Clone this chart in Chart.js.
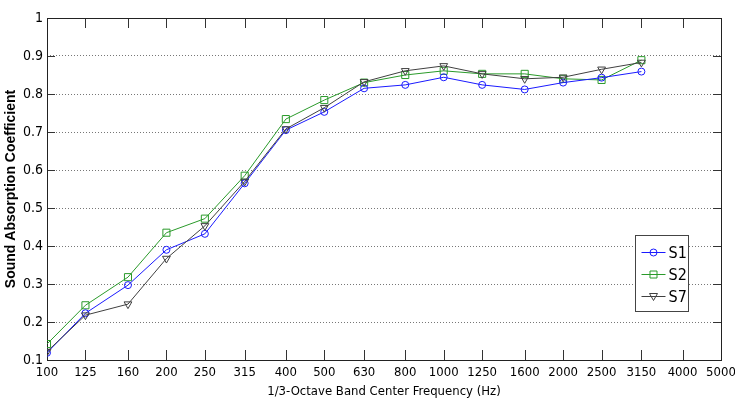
<!DOCTYPE html>
<html>
<head>
<meta charset="utf-8">
<script src="https://cdn.jsdelivr.net/npm/chart.js@4/dist/chart.umd.min.js"></script>
<style>
  body { margin: 0; background: #fff; }
  canvas { display: block; }
</style>
</head>
<body>
<canvas id="chart" width="735" height="405"></canvas>
<script>
const freqTicks = [100, 125, 160, 200, 250, 315, 400, 500, 630, 800, 1000, 1250, 1600, 2000, 2500, 3150, 4000, 5000];
const freqs = [100, 125, 160, 200, 250, 315, 400, 500, 630, 800, 1000, 1250, 1600, 2000, 2500, 3150];
const s1 = [0.119, 0.223, 0.297, 0.390, 0.432, 0.565, 0.705, 0.753, 0.815, 0.824, 0.844, 0.824, 0.812, 0.830, 0.843, 0.859];
const s2 = [0.142, 0.244, 0.318, 0.435, 0.472, 0.585, 0.734, 0.784, 0.830, 0.850, 0.861, 0.853, 0.853, 0.840, 0.837, 0.889];
const s7 = [0.122, 0.218, 0.247, 0.367, 0.453, 0.570, 0.708, 0.764, 0.832, 0.861, 0.874, 0.853, 0.840, 0.844, 0.865, 0.883];
const yTicks = [0.1, 0.2, 0.3, 0.4, 0.5, 0.6, 0.7, 0.8, 0.9, 1];

const narrow = "'Liberation Sans Narrow', 'DejaVu Sans Condensed', 'Liberation Sans', sans-serif";

function pts(vals) {
  return vals.map((v, i) => ({ x: freqs[i], y: v }));
}

function drawMarker(ctx, style, x, y, color) {
  ctx.save();
  ctx.strokeStyle = color;
  ctx.lineWidth = 1;
  ctx.beginPath();
  if (style === "circle") {
    ctx.arc(x, y, 3.5, 0, Math.PI * 2);
  } else if (style === "rect") {
    ctx.rect(x - 3.5, y - 3.5, 7, 7);
  } else {
    ctx.moveTo(x - 4, y - 3);
    ctx.lineTo(x + 4, y - 3);
    ctx.lineTo(x, y + 4);
    ctx.closePath();
  }
  ctx.stroke();
  ctx.restore();
}

// matlab-like box with inward ticks
const framePlugin = {
  id: "frame",
  beforeDatasetsDraw(chart) {
    const { ctx, chartArea: a, scales } = chart;
    ctx.save();
    ctx.strokeStyle = "#333";
    ctx.lineWidth = 1;
    freqTicks.forEach(f => {
      const x = Math.round(scales.x.getPixelForValue(f)) + 0.5;
      ctx.beginPath();
      ctx.moveTo(x, a.bottom);
      ctx.lineTo(x, a.bottom - 10);
      ctx.moveTo(x, a.top);
      ctx.lineTo(x, a.top + 10);
      ctx.stroke();
    });
    yTicks.forEach(v => {
      const y = Math.round(scales.y.getPixelForValue(v)) + 0.5;
      ctx.beginPath();
      ctx.moveTo(a.left, y);
      ctx.lineTo(a.left + 8, y);
      ctx.moveTo(a.right, y);
      ctx.lineTo(a.right - 8, y);
      ctx.stroke();
    });
    ctx.strokeStyle = "#222";
    ctx.strokeRect(Math.round(a.left) + 0.5, Math.round(a.top) + 0.5,
      Math.round(a.right - a.left), Math.round(a.bottom - a.top));
    ctx.restore();
  },
  afterDraw(chart) {
    const { ctx, chartArea: a } = chart;
    const left = Math.round(a.right) - 86 + 0.5;
    const top = Math.round(a.top) + 217 + 0.5;
    const w = 53, h = 76;
    ctx.save();
    ctx.fillStyle = "#fff";
    ctx.fillRect(left, top, w, h);
    ctx.strokeStyle = "#444";
    ctx.lineWidth = 1;
    ctx.strokeRect(left, top, w, h);
    ctx.font = "16px " + narrow;
    ctx.textBaseline = "middle";
    ctx.fillStyle = "#000";
    chart.data.datasets.forEach((ds, i) => {
      const y = top + 17 + i * 22;
      ctx.strokeStyle = ds.borderColor;
      ctx.beginPath();
      ctx.moveTo(left + 6, y);
      ctx.lineTo(left + 30, y);
      ctx.stroke();
      drawMarker(ctx, ds.markerName, left + 18, y, ds.borderColor);
      ctx.fillText(ds.label, left + 33, y + 1);
    });
    ctx.restore();
  }
};

const common = {
  borderWidth: 1,
  pointBackgroundColor: "rgba(0,0,0,0)",
  pointBorderWidth: 1,
  tension: 0,
  fill: false
};

new Chart(document.getElementById("chart").getContext("2d"), {
  type: "line",
  data: {
    datasets: [
      Object.assign({}, common, {
        label: "S1", data: pts(s1), borderColor: "#1a1aff", pointBorderColor: "#1a1aff",
        pointStyle: "circle", pointRadius: 3.5, markerName: "circle", order: 1
      }),
      Object.assign({}, common, {
        label: "S2", data: pts(s2), borderColor: "#2a9a2a", pointBorderColor: "#2a9a2a",
        pointStyle: "rect", pointRadius: 5, markerName: "rect", order: 2
      }),
      Object.assign({}, common, {
        label: "S7", data: pts(s7), borderColor: "#404040", pointBorderColor: "#404040",
        pointStyle: "triangle", pointRotation: 180, pointRadius: 4.5, markerName: "triangle", order: 0
      })
    ]
  },
  options: {
    responsive: false,
    animation: false,
    layout: { padding: { left: 0, top: 18, right: 14, bottom: 0 } },
    plugins: {
      legend: { display: false },
      tooltip: { enabled: false }
    },
    scales: {
      x: {
        type: "logarithmic",
        min: 100,
        max: 5000,
        afterBuildTicks: s => { s.ticks = freqTicks.map(v => ({ value: v })); },
        afterFit: s => { s.height = 45; s.paddingRight = 0; s.paddingLeft = 0; },
        grid: { display: false, drawTicks: false },
        border: { display: false },
        ticks: {
          color: "#000",
          font: { family: narrow, size: 13 },
          padding: 5,
          maxRotation: 0,
          autoSkip: false,
          callback: v => String(v)
        },
        title: {
          display: true,
          text: "1/3-Octave Band Center Frequency (Hz)",
          color: "#000",
          font: { family: narrow, size: 13 },
          padding: { top: 0, bottom: 6 }
        }
      },
      y: {
        min: 0.1,
        max: 1,
        afterBuildTicks: s => { s.ticks = yTicks.map(v => ({ value: v })); },
        afterFit: s => { s.width = 47; },
        grid: { color: "#777", lineWidth: 1, drawTicks: false },
        border: { display: false, dash: [1, 2] },
        ticks: {
          color: "#000",
          font: { family: narrow, size: 14 },
          padding: 4,
          callback: v => String(v)
        },
        title: {
          display: true,
          text: "Sound Absorption Coefficient",
          color: "#000",
          font: { family: "'Liberation Sans', Arial, sans-serif", size: 14, weight: "bold" },
          padding: { top: 3, bottom: 0 }
        }
      }
    }
  },
  plugins: [framePlugin]
});
</script>
</body>
</html>
